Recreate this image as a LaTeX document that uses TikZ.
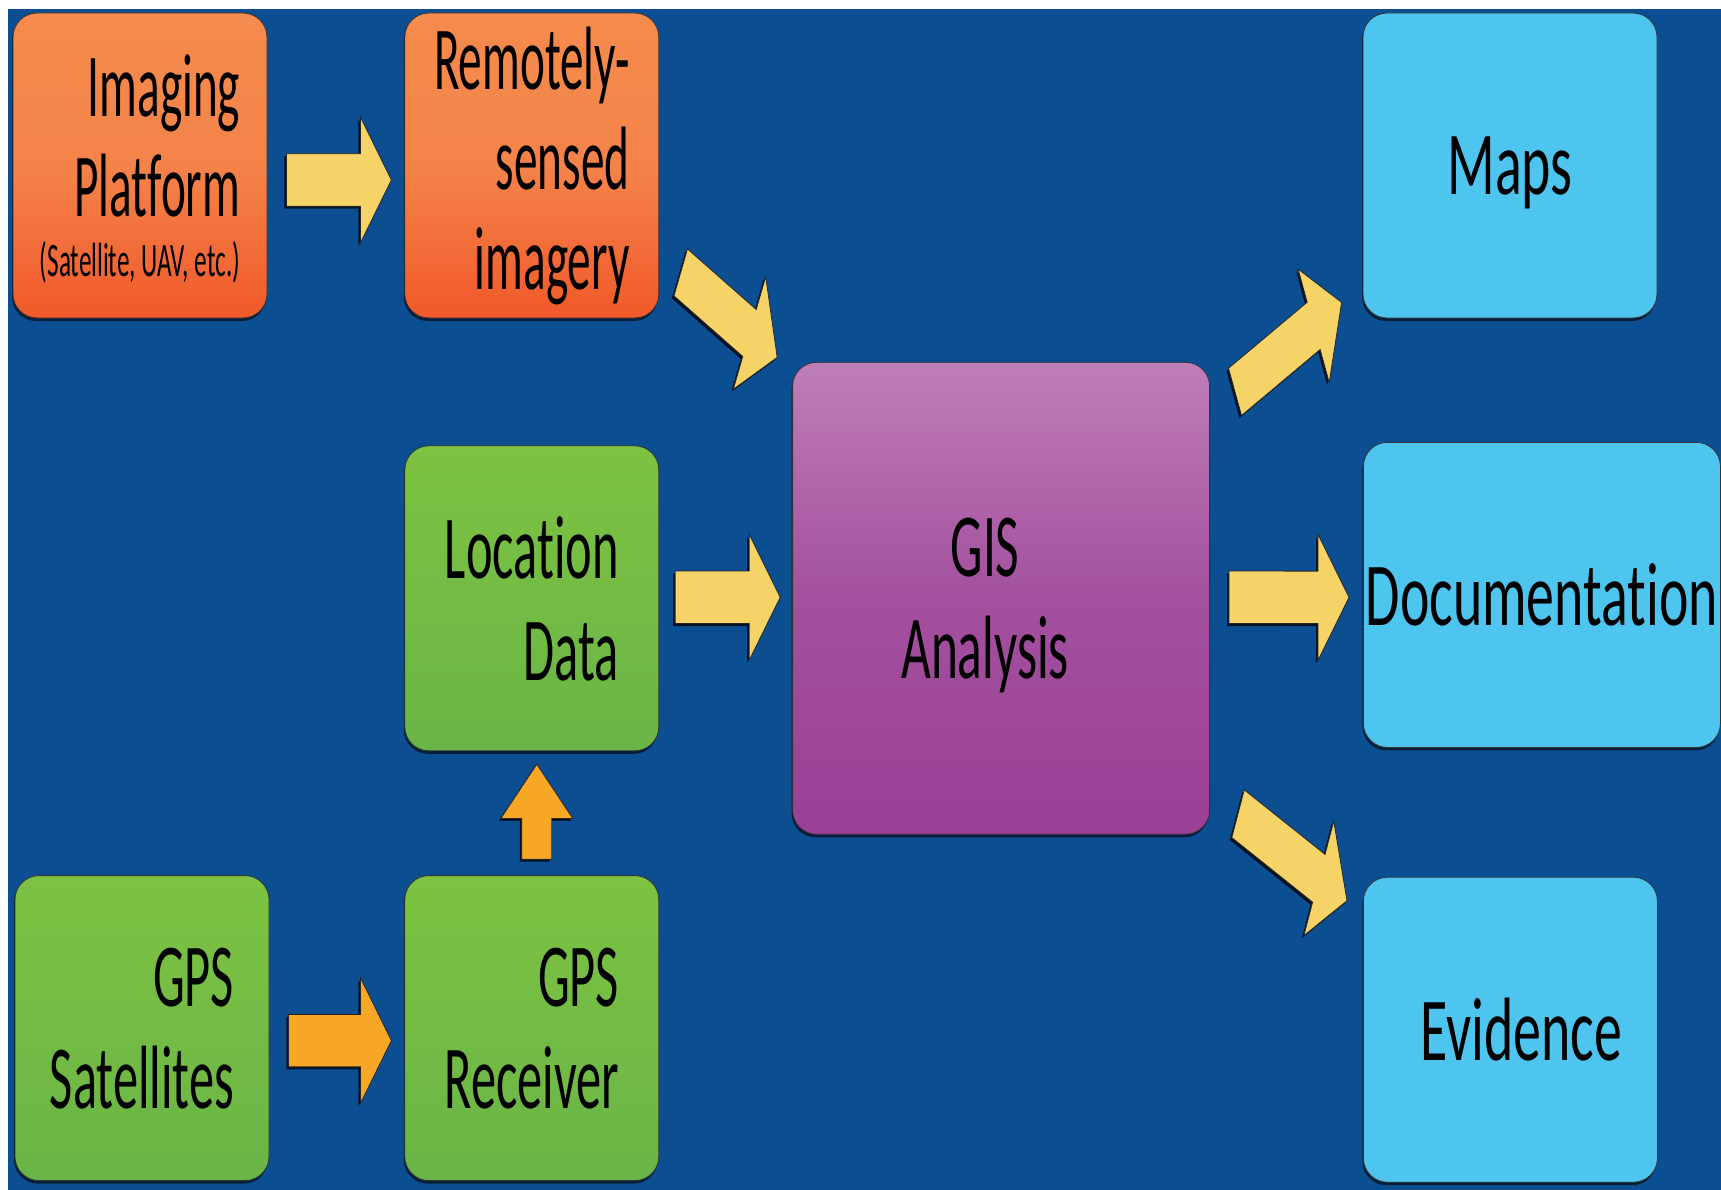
\documentclass[tikz,border=0pt]{standalone}
\usepackage{fontspec}
\newfontfamily\orangefont[FakeStretch=0.525, Ligatures=NoCommon]{Carlito}
\newfontfamily\greenfont[FakeStretch=0.56, Ligatures=NoCommon]{Carlito}
\newfontfamily\gisfont[FakeStretch=0.57, Ligatures=NoCommon]{Carlito}
\newfontfamily\bluefont[FakeStretch=0.62, Ligatures=NoCommon]{Carlito}
\usetikzlibrary{positioning,calc,shadows}

\definecolor{bgblue}{HTML}{0C4E92}
\definecolor{arrowyellow}{HTML}{F6D367}
\definecolor{arroworange}{HTML}{F7A626}
\definecolor{orangetop}{HTML}{F58B4C}
\definecolor{orangemid}{HTML}{F4834A}
\definecolor{orangebot}{HTML}{F1592A}
\definecolor{greentop}{HTML}{7DC242}
\definecolor{greenbot}{HTML}{6AB547}
\definecolor{gistop}{HTML}{BE7EB8}
\definecolor{gismid}{HTML}{A3509E}
\definecolor{gisbot}{HTML}{9B3F97}
\definecolor{outblue}{HTML}{4DC5EF}

% block arrow sizes, measured in the unstretched frame
\newcommand{\stretchk}{1.75}
\newcommand{\shafthw}{15}
\newcommand{\headhw}{36}
\newcommand{\headlen}{31}

\tikzset{
  box/.style={rectangle, rounded corners=24pt, minimum width=254pt, minimum height=305pt,
    inner sep=0pt, draw=black!80, line width=0.8pt, text=black,
    drop shadow={shadow xshift=-1pt, shadow yshift=-3pt, opacity=0.6, fill=black},
    align=right},
  orangebox/.style={box, font=\orangefont\fontsize{90}{100}\selectfont,
    top color=orangetop, bottom color=orangebot, middle color=orangemid},
  greenbox/.style={box, font=\greenfont\fontsize{90}{102}\selectfont,
    top color=greentop, bottom color=greenbot},
  gisbox/.style={box, font=\gisfont\fontsize{90}{102}\selectfont,
    minimum width=417pt, minimum height=472pt, align=center,
    top color=gistop, bottom color=gisbot, middle color=gismid},
  bluebox/.style={box, font=\bluefont\fontsize{90}{102}\selectfont,
    minimum width=294pt, align=center, fill=outblue},
  arrowbase/.style={draw=black!85, line width=0.8pt,
    drop shadow={shadow xshift=-2pt, shadow yshift=-2.5pt, opacity=0.75, fill=black}},
  yarrow/.style={arrowbase, fill=arrowyellow},
  oarrow/.style={arrowbase, fill=arroworange}
}

% fat arrow from #2 to #3
\newcommand{\fatarrow}[3][yarrow]{%
  \path[#1] let \p1=#2, \p2=#3,
    \n1={veclen(\x2-\x1,(\y2-\y1)/\stretchk)},
    \n2={(\x2-\x1)/\n1}, \n3={(\y2-\y1)/\n1},
    \n4={\n1-\headlen}
  in ({\x1-\shafthw*\n3/\stretchk},{\y1+\shafthw*\stretchk*\n2})
  -- ({\x1+\n4*\n2-\shafthw*\n3/\stretchk},{\y1+\n4*\n3+\shafthw*\stretchk*\n2})
  -- ({\x1+\n4*\n2-\headhw*\n3/\stretchk},{\y1+\n4*\n3+\headhw*\stretchk*\n2})
  -- (\p2)
  -- ({\x1+\n4*\n2+\headhw*\n3/\stretchk},{\y1+\n4*\n3-\headhw*\stretchk*\n2})
  -- ({\x1+\n4*\n2+\shafthw*\n3/\stretchk},{\y1+\n4*\n3-\shafthw*\stretchk*\n2})
  -- ({\x1+\shafthw*\n3/\stretchk},{\y1-\shafthw*\stretchk*\n2})
  -- cycle;
}

\begin{document}
\begin{tikzpicture}[x=1pt, y=-1pt]
\useasboundingbox (0,0) rectangle (1721,1190);
\fill[white] (0,0) rectangle (1721,1190);
\fill[bgblue] (8,9) rectangle (1721,1190);

% inputs
\node[orangebox, text depth=-12pt] (imaging) at (140,165.5) {Imaging\\Platform\\[-40pt]{\fontsize{48}{50}\selectfont(Satellite, UAV, etc.)}};
\node[orangebox, right=137pt of imaging] (remote) {Remotely-\\sensed\\imagery};
\node[greenbox, below=127pt of remote, text depth=-10pt] (location) {Location\\Data};
\node[greenbox, below=124pt of location, text depth=-16pt] (gpsrec) {GPS\\Receiver};
\node[greenbox, left=135pt of gpsrec, text depth=-16pt] (gpssat) {GPS\\Satellites};
\node[gisbox, right=133pt of location, text depth=-4pt] (gis) {GIS\hspace*{32pt}\\Analysis\hspace*{32pt}};

% outputs
\node[bluebox, text depth=-10pt] (maps) at (1510,165.5) {Maps};
\node[bluebox, minimum width=357pt, anchor=north west, text depth=-8pt] (doc) at (1363,442) {Documentation};
\node[bluebox, below=129pt of doc.south west, anchor=north west, text depth=-10pt] (evidence) {\hspace*{22pt}Evidence};

% arrows
\fatarrow{($(imaging.east)+(19,14.5)$)}{($(remote.west)+(-13,14.5)$)}
\fatarrow{($(remote.south east)+(21.5,-46)$)}{($(gis.north west)+(-15,-4.5)$)}
\fatarrow{($(location.east)+(16,-1)$)}{($(gis.west)+(-12,-1)$)}
\fatarrow[oarrow]{($(gpssat.east)+(19,12.5)$)}{($(gpsrec.west)+(-13,12.5)$)}
\fatarrow[oarrow]{($(gpsrec.north)+(5,-16)$)}{($(location.south)+(5,13)$)}
\fatarrow{($(gis.north east)+(25,30)$)}{($(maps.south west)+(-21,-16)$)}
\fatarrow{($(gis.east)+(19,-1)$)}{($(doc.west)+(-14,2.5)$)}
\fatarrow{($(gis.south east)+(28,-21)$)}{($(evidence.north west)+(-16,24)$)}
\end{tikzpicture}
\end{document}
